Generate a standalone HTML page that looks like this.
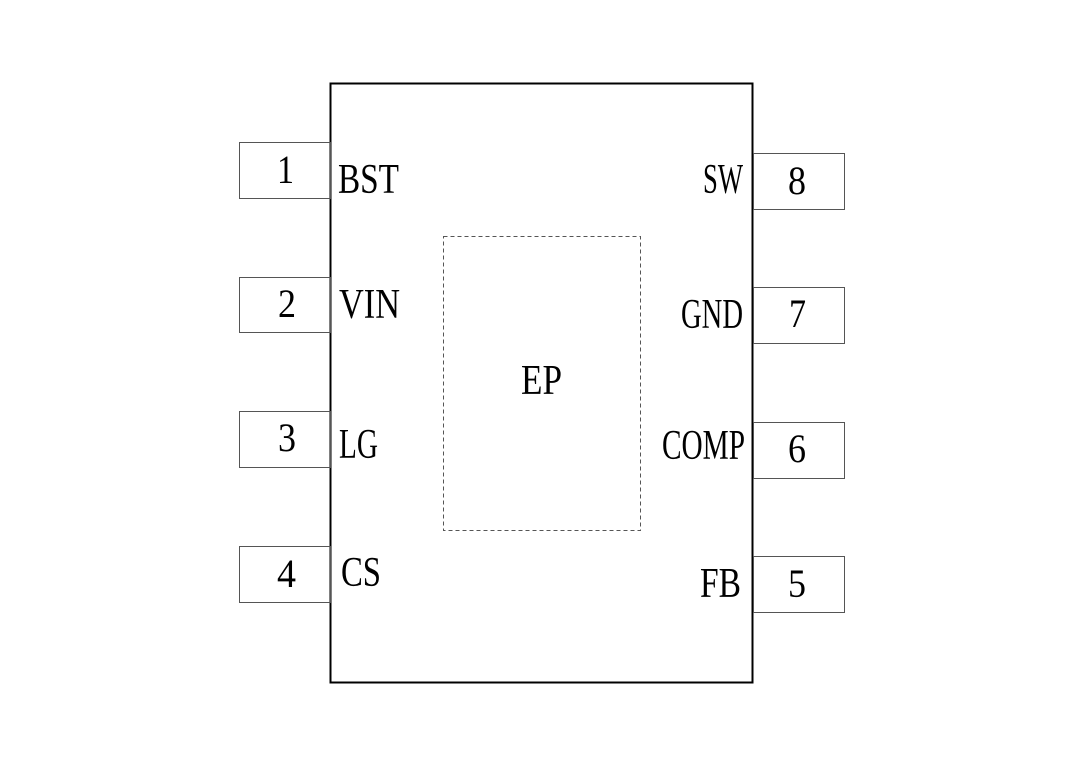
<!DOCTYPE html>
<html><head><meta charset="utf-8"><style>
html,body{margin:0;padding:0;background:#fff;}
svg{display:block;}
text{font-family:"Liberation Serif","Noto Serif CJK SC",serif;fill:#000;}
</style></head><body>
<svg width="1080" height="760" viewBox="0 0 1080 760" xmlns="http://www.w3.org/2000/svg">
<rect x="0" y="0" width="1080" height="760" fill="#fff"/>
<rect x="330.5" y="83.5" width="422" height="599" fill="none" stroke="#000" stroke-width="2"/>
<g fill="none" stroke="#555" stroke-width="1">
<rect x="239.5" y="142.5" width="91" height="56"/>
<rect x="239.5" y="277.5" width="91" height="55"/>
<rect x="239.5" y="411.5" width="91" height="56"/>
<rect x="239.5" y="546.5" width="91" height="56"/>
<rect x="753.5" y="153.5" width="91" height="56"/>
<rect x="753.5" y="287.5" width="91" height="56"/>
<rect x="753.5" y="422.5" width="91" height="56"/>
<rect x="753.5" y="556.5" width="91" height="56"/>
<rect x="443.5" y="236.5" width="197" height="294" stroke-dasharray="4,3"/>
</g>
<g font-size="42">
<text x="338" y="193" textLength="61" lengthAdjust="spacingAndGlyphs">BST</text>
<text x="339" y="318" textLength="61" lengthAdjust="spacingAndGlyphs">VIN</text>
<text x="339" y="458" textLength="39" lengthAdjust="spacingAndGlyphs">LG</text>
<text x="341" y="586" textLength="40" lengthAdjust="spacingAndGlyphs">CS</text>
<text x="703" y="193" textLength="40" lengthAdjust="spacingAndGlyphs">SW</text>
<text x="681" y="328" textLength="62" lengthAdjust="spacingAndGlyphs">GND</text>
<text x="662" y="459" textLength="83" lengthAdjust="spacingAndGlyphs">COMP</text>
<text x="700" y="597" textLength="41" lengthAdjust="spacingAndGlyphs">FB</text>
<text x="521" y="394" textLength="41" lengthAdjust="spacingAndGlyphs">EP</text>
</g>
<g font-size="40">
<text x="277" y="183" textLength="17" lengthAdjust="spacingAndGlyphs">1</text>
<text x="278" y="317" textLength="18" lengthAdjust="spacingAndGlyphs">2</text>
<text x="278" y="451" textLength="18" lengthAdjust="spacingAndGlyphs">3</text>
<text x="277" y="587" textLength="19" lengthAdjust="spacingAndGlyphs">4</text>
<text x="788" y="194" textLength="18" lengthAdjust="spacingAndGlyphs">8</text>
<text x="789" y="327" textLength="17" lengthAdjust="spacingAndGlyphs">7</text>
<text x="788" y="462" textLength="18" lengthAdjust="spacingAndGlyphs">6</text>
<text x="788" y="597" textLength="18" lengthAdjust="spacingAndGlyphs">5</text>
</g>
</svg>
</body></html>
